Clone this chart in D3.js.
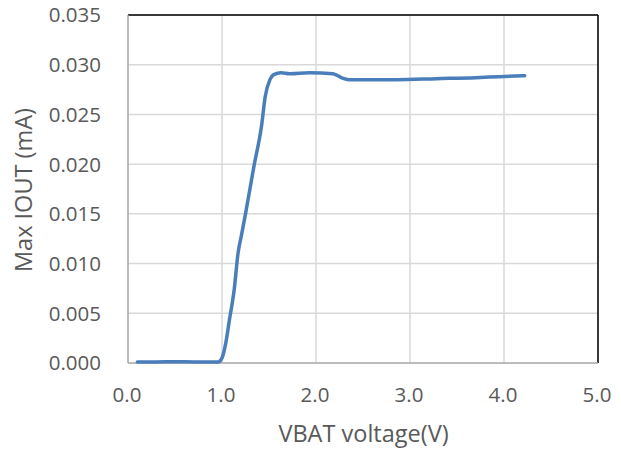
<!DOCTYPE html>
<html><head><meta charset="utf-8">
<script src="https://cdn.jsdelivr.net/npm/d3@7"></script>
<style>body{margin:0;background:#fff}text{font-family:"Open Sans","Liberation Sans",sans-serif;fill:#595959}</style>
</head><body><svg id="c" width="621" height="452"></svg>
<script>
const vbat = [0.1,0.3,0.5,0.7,0.83,0.96,1.0,1.04,1.08,1.13,1.17,1.21,1.25,1.34,1.42,1.46,1.51,1.55,1.63,1.72,1.93,2.18,2.27,2.35,2.6,2.86,3.28,3.7,3.95,4.22];
const iout = [0.0001,0.0001,0.00013,0.0001,0.0001,0.0001,0.0005,0.002,0.0044,0.0074,0.011,0.013,0.015,0.0198,0.0238,0.0268,0.0285,0.029,0.0292,0.0291,0.0292,0.0291,0.0287,0.0285,0.0285,0.0285,0.0286,0.0287,0.0288,0.0289];
const xTicks = [0,1,2,3,4,5];
const yTicks = [0,0.005,0.01,0.015,0.02,0.025,0.03,0.035];

const svg = d3.select("#c");
const L=128,R=598,T=15,B=363;
const x = d3.scaleLinear().domain([0,5]).range([L,R]);
const y = d3.scaleLinear().domain([0,0.035]).range([B,T]);

svg.append("g").selectAll("line").data(xTicks.slice(1)).join("line")
  .attr("x1",d=>x(d)).attr("x2",d=>x(d)).attr("y1",T).attr("y2",B)
  .attr("stroke","#d9d9d9").attr("stroke-width",1.5);
svg.append("g").selectAll("line").data(yTicks.slice(1)).join("line")
  .attr("x1",L).attr("x2",R).attr("y1",d=>y(d)).attr("y2",d=>y(d))
  .attr("stroke","#d9d9d9").attr("stroke-width",1.5);

// box
svg.append("line").attr("x1",L).attr("x2",R).attr("y1",T).attr("y2",T).attr("stroke","#000").attr("stroke-width",1.5);
svg.append("line").attr("x1",R).attr("x2",R).attr("y1",T).attr("y2",B).attr("stroke","#000").attr("stroke-width",1.5);
svg.append("line").attr("x1",L).attr("x2",L).attr("y1",T).attr("y2",B).attr("stroke","#a6a6a6").attr("stroke-width",1.5);
svg.append("line").attr("x1",L).attr("x2",R).attr("y1",B).attr("y2",B).attr("stroke","#a6a6a6").attr("stroke-width",1.5);

svg.append("g").selectAll("text").data(yTicks).join("text")
  .attr("x",101).attr("y",d=>y(d)).attr("dy","0.36em").attr("text-anchor","end")
  .attr("font-size",20.5).text(d=>d3.format(".3f")(d));
svg.append("g").selectAll("text").data(xTicks).join("text")
  .attr("x",d=>x(d)-1).attr("y",395).attr("dy","0.36em").attr("text-anchor","middle")
  .attr("font-size",20.5).text(d=>d3.format(".1f")(d));

svg.append("text").attr("x",363.5).attr("y",441.5).attr("text-anchor","middle").attr("font-size",23.5).text("VBAT voltage(V)");
svg.append("text").attr("transform",`translate(32,190) rotate(-90)`).attr("text-anchor","middle").attr("font-size",23.5).text("Max IOUT (mA)");

const line = d3.line().x((d,i)=>x(vbat[i])).y((d,i)=>y(iout[i])).curve(d3.curveMonotoneX);
svg.append("path").datum(iout).attr("d",line).attr("fill","none")
  .attr("stroke","#4a7ebb").attr("stroke-width",3.5).attr("stroke-linecap","round").attr("stroke-linejoin","round");
</script></body></html>
